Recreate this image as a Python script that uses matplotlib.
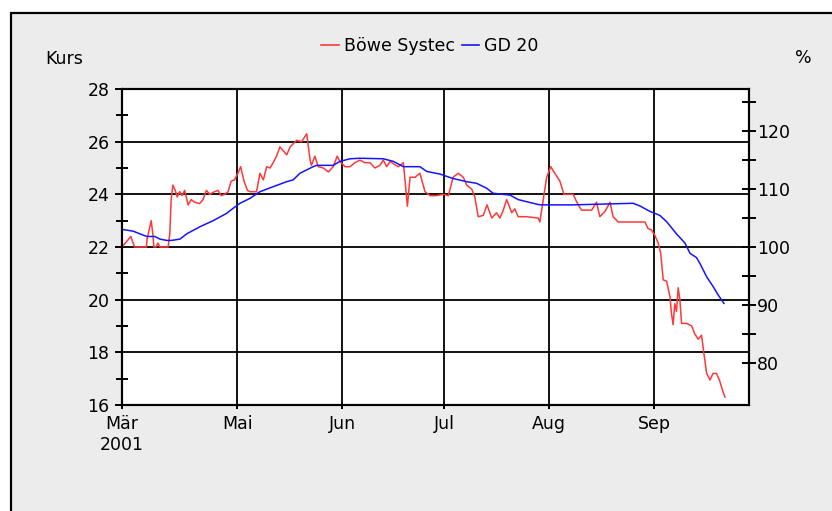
import numpy as np
import pandas as pd
import matplotlib
matplotlib.use('Agg')
import matplotlib.pyplot as plt
from matplotlib.patches import Rectangle
from matplotlib.lines import Line2D
from matplotlib.ticker import FixedLocator

# Startdatum der x-Achse (linker Rand)
start = pd.Timestamp('2001-03-28')

# Kurs Böwe Systec: Tage seit Start, Kurs in EUR
kurs_tag = [0.0, 2.6, 3.7, 7.2, 7.4, 8.6, 9.1, 9.4, 10.0, 10.6, 11.2, 13.6, 14.1, 14.5,
            15.0, 15.7, 16.3, 17.0, 17.7, 18.5, 19.5, 20.4, 21.4, 22.9, 23.9, 24.9, 25.9,
            27.3, 28.3, 29.3, 30.3, 31.3, 32.2, 33.2, 34.2, 35.0, 36.0, 37.0, 37.8, 39.7,
            40.7, 41.7, 42.7, 43.7, 44.6, 45.6, 46.6, 47.6, 48.6, 49.6, 51.5, 53.0, 54.5,
            55.5, 55.9, 56.9, 57.9, 59.4, 60.9, 62.3, 63.5, 64.3, 65.8, 67.3, 68.7, 70.2,
            71.7, 73.2, 74.6, 76.1, 77.1, 78.1, 79.1, 80.2, 81.5, 83.0, 83.5, 84.2, 85.0,
            86.5, 87.9, 89.4, 90.9, 92.8, 94.8, 96.3, 97.7, 99.2, 100.7, 101.7, 103.2,
            104.1, 105.1, 106.6, 107.7, 109.1, 110.5, 111.5, 112.5, 113.5, 115.0, 115.9,
            116.9, 119.4, 122.8, 123.3, 124.3, 125.3, 126.5, 127.7, 129.2, 130.4, 133.1,
            134.6, 135.6, 138.6, 140.0, 141.0, 142.5, 144.0, 144.9, 146.4, 150.8, 154.3,
            155.2, 156.2, 157.2, 158.2, 158.9, 159.7, 160.7, 161.7, 162.1, 162.6, 163.1,
            163.6, 164.1, 164.6, 165.1, 166.6, 168.1, 169.0, 170.0, 171.0, 171.7, 172.5,
            173.5, 174.4, 175.4, 176.4, 177.2, 177.9]
kurs = [22.0, 22.4, 22.0, 22.0, 22.3, 23.0, 22.5, 22.0, 22.0, 22.15, 22.0, 22.0, 22.5, 23.8,
        24.35, 24.15, 23.9, 24.1, 23.95, 24.15, 23.6, 23.8, 23.7, 23.65, 23.8, 24.15, 24.0,
        24.1, 24.15, 23.95, 24.0, 24.1, 24.5, 24.55, 24.8, 25.05, 24.5, 24.15, 24.1, 24.1,
        24.8, 24.55, 25.05, 25.0, 25.2, 25.45, 25.8, 25.65, 25.5, 25.8, 26.05, 26.0, 26.3,
        25.3, 25.1, 25.45, 25.05, 25.0, 24.85, 25.05, 25.45, 25.25, 25.05, 25.05, 25.2, 25.3,
        25.2, 25.2, 25.0, 25.1, 25.3, 25.05, 25.25, 25.15, 25.05, 25.2, 24.55, 23.55, 24.65,
        24.65, 24.8, 24.1, 23.95, 23.95, 24.0, 23.95, 24.65, 24.8, 24.65, 24.35, 24.2,
        23.9, 23.15, 23.2, 23.6, 23.1, 23.3, 23.1, 23.4, 23.8, 23.3, 23.45,
        23.15, 23.15, 23.1, 22.95, 23.8, 24.65, 25.05, 24.8, 24.5, 24.0, 24.0,
        23.6, 23.4, 23.4, 23.7, 23.15, 23.35, 23.7, 23.15, 22.95, 22.95, 22.95,
        22.7, 22.65, 22.45, 22.15, 21.8, 20.75, 20.7, 20.1, 19.5, 19.05, 19.85,
        19.55, 20.45, 20.0, 19.1, 19.1, 19.0, 18.7, 18.5, 18.65, 17.95, 17.2,
        16.95, 17.2, 17.2, 16.9, 16.55, 16.3]

# GD 20 (gleitender Durchschnitt 20 Tage)
gd_tag = [0.0, 3.3, 5.3, 7.3, 9.7, 11.2, 13.2, 14.6, 17.1, 19.1, 23.0, 26.9, 30.9, 32.8,
          34.8, 37.8, 40.7, 44.6, 48.6, 50.5, 52.5, 56.4, 57.4, 62.3, 64.3, 67.3, 70.2,
          77.1, 80.1, 83.0, 87.9, 89.9, 93.8, 97.7, 101.7, 104.6, 107.6, 109.5, 114.5,
          116.9, 121.3, 123.3, 133.1, 150.8, 152.8, 155.8, 158.7, 160.7, 163.6, 166.1,
          167.6, 169.5, 170.5, 172.5, 174.4, 175.9, 177.6]
gd20 = [22.67, 22.6, 22.5, 22.4, 22.4, 22.3, 22.25, 22.25, 22.3, 22.5, 22.77, 23.0, 23.28, 23.47,
        23.66, 23.85, 24.1, 24.29, 24.48, 24.55, 24.8, 25.05, 25.1, 25.1, 25.25, 25.35, 25.37,
        25.35, 25.25, 25.05, 25.05, 24.87, 24.77, 24.6, 24.48, 24.42, 24.23, 24.04, 23.97,
        23.8, 23.66, 23.6, 23.6, 23.66, 23.56, 23.35, 23.2, 22.96, 22.5, 22.15,
        21.76, 21.6, 21.38, 20.87, 20.5, 20.18, 19.86]

monate = ['2001-05-01', '2001-06-01', '2001-07-01', '2001-08-01', '2001-09-01']
monat_labels = ['Mär\n2001', 'Mai', 'Jun', 'Jul', 'Aug', 'Sep']
basis = 22.0  # Kurs = 100 %

rot = '#ff3838'
blau = '#1414ff'
fs = 12.5

fig = plt.figure(figsize=(8.32, 5.11), dpi=100)
fig.patch.set_facecolor('white')
# grauer Hintergrund mit schwarzem Rahmen
fig.add_artist(Rectangle((11 / 832, -0.05), 1.1, 1 - 13 / 511 + 0.05,
                         transform=fig.transFigure, facecolor='#ececec',
                         edgecolor='black', lw=1.6, zorder=-5))

ax = fig.add_axes([122 / 832, 1 - 405 / 511, 627 / 832, 316 / 511])
ax.set_facecolor('white')
ax.plot(kurs_tag, kurs, color=rot, lw=1.1, zorder=3)
ax.plot(gd_tag, gd20, color=blau, lw=1.1, zorder=3)

ax.set_xlim(0, 185)
ax.set_ylim(16, 28)
xticks = [0] + [(pd.Timestamp(m) - start).days for m in monate]
ax.set_xticks(xticks)
ax.set_xticklabels(monat_labels, fontsize=fs)
ax.set_yticks(np.arange(16, 29, 2))
ax.set_yticklabels([str(v) for v in range(16, 29, 2)], fontsize=fs)
ax.yaxis.set_minor_locator(FixedLocator(np.arange(17, 28, 2)))
ax.grid(True, which='major', color='black', lw=1.3)
ax.tick_params(axis='x', direction='out', length=3, width=1.4, pad=4)
ax.tick_params(axis='y', which='major', direction='out', length=5, width=1.4, pad=4)
ax.tick_params(axis='y', which='minor', direction='inout', length=9, width=1.4)
for s in ax.spines.values():
    s.set_linewidth(1.5)

ax2 = ax.twinx()
ax2.set_ylim(16 * 100 / basis, 28 * 100 / basis)
ax2.set_yticks([80, 90, 100, 110, 120])
ax2.set_yticklabels(['80', '90', '100', '110', '120'], fontsize=fs)
ax2.yaxis.set_minor_locator(FixedLocator([85, 95, 105, 115, 125]))
ax2.tick_params(axis='y', which='both', direction='inout', length=10, width=1.4, pad=1)
for s in ax2.spines.values():
    s.set_linewidth(1.5)

fig.text(45 / 832, 1 - 59 / 511, 'Kurs', fontsize=fs, ha='left', va='center')
fig.text(803 / 832, 1 - 58 / 511, '%', fontsize=fs, ha='center', va='center')

handles = [Line2D([], [], color=rot, lw=1.2), Line2D([], [], color=blau, lw=1.2)]
fig.legend(handles, ['Böwe Systec', 'GD 20'], loc='center', bbox_to_anchor=(0.517, 1 - 46 / 511),
           ncol=2, frameon=False, fontsize=fs, handlelength=1.0, handletextpad=0.3,
           columnspacing=0.4)

fig.savefig('out.png', dpi=100)
